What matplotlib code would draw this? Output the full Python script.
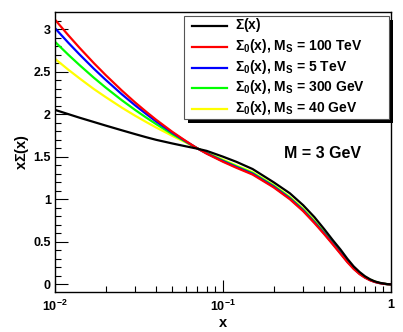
import matplotlib
matplotlib.use("Agg")
import matplotlib.pyplot as plt
from matplotlib.patches import Rectangle
from matplotlib.lines import Line2D
from matplotlib.ticker import FixedLocator, NullFormatter, FixedFormatter

plt.rcParams['font.family'] = ['Liberation Sans', 'DejaVu Sans']
plt.rcParams['font.weight'] = 'bold'
plt.rcParams['mathtext.fontset'] = 'custom'
plt.rcParams['mathtext.rm'] = 'Liberation Sans:bold'
plt.rcParams['mathtext.it'] = 'Liberation Sans:bold'
plt.rcParams['mathtext.bf'] = 'Liberation Sans:bold'
plt.rcParams['mathtext.sf'] = 'Liberation Sans:bold'

x = [0.01, 0.012, 0.014, 0.017, 0.02, 0.025, 0.03, 0.035, 0.04, 0.05, 0.06, 0.07, 0.08,
     0.1, 0.12, 0.15, 0.2, 0.25, 0.3, 0.35, 0.4, 0.45, 0.5, 0.55, 0.6, 0.65, 0.7, 0.75,
     0.8, 0.85, 0.9, 0.95, 1.0]
sigma_full = [2.05, 2.00, 1.958, 1.908, 1.866, 1.81, 1.765, 1.728, 1.698, 1.655, 1.622, 1.595, 1.568,
              1.50, 1.44, 1.355, 1.20, 1.07, 0.93, 0.79, 0.65, 0.52, 0.41, 0.30, 0.21, 0.145,
              0.095, 0.06, 0.035, 0.02, 0.01, 0.003, 0.0]
sigma0_100TeV = [3.11, 2.927, 2.779, 2.601, 2.46, 2.277, 2.137, 2.026, 1.934, 1.791, 1.685, 1.60, 1.535,
                 1.44, 1.37, 1.29, 1.14, 1.00, 0.86, 0.72, 0.59, 0.47, 0.36, 0.26, 0.18, 0.12,
                 0.078, 0.048, 0.028, 0.015, 0.007, 0.002, 0.0]
sigma0_5TeV = [3.01, 2.839, 2.701, 2.535, 2.404, 2.233, 2.103, 2.000, 1.914, 1.781, 1.681, 1.60, 1.538,
               1.447, 1.378, 1.298, 1.148, 1.008, 0.868, 0.728, 0.598, 0.477, 0.367, 0.266, 0.185,
               0.124, 0.081, 0.05, 0.029, 0.016, 0.007, 0.002, 0.0]
sigma0_300GeV = [2.85, 2.698, 2.576, 2.429, 2.313, 2.163, 2.049, 1.958, 1.883, 1.764, 1.675, 1.60, 1.543,
                 1.455, 1.387, 1.308, 1.158, 1.018, 0.878, 0.738, 0.607, 0.485, 0.374, 0.272, 0.19,
                 0.128, 0.084, 0.052, 0.031, 0.017, 0.008, 0.002, 0.0]
sigma0_40GeV = [2.65, 2.522, 2.420, 2.296, 2.201, 2.076, 1.981, 1.906, 1.843, 1.744, 1.668, 1.60, 1.55,
                1.465, 1.397, 1.318, 1.168, 1.028, 0.89, 0.75, 0.618, 0.495, 0.383, 0.28, 0.196,
                0.133, 0.088, 0.055, 0.033, 0.018, 0.008, 0.002, 0.0]

labels = [r"$Σ$(x)",
          r"$Σ_0$(x), M$_S$ = 100 TeV",
          r"$Σ_0$(x), M$_S$ = 5 TeV",
          r"$Σ_0$(x), M$_S$ = 300 GeV",
          r"$Σ_0$(x), M$_S$ = 40 GeV"]
colors = ['black', '#ff0000', '#0000ff', '#00ff00', '#ffff00']
series = [sigma_full, sigma0_100TeV, sigma0_5TeV, sigma0_300GeV, sigma0_40GeV]

W, H = 403, 332
fig = plt.figure(figsize=(W/100, H/100), dpi=100)
ax = fig.add_axes([55/W, 1-292/H, (391-55)/W, (292-12)/H])

for ys, c in list(zip(series, colors))[::-1]:
    ax.plot(x, ys, color=c, lw=1.6, solid_joinstyle='round', solid_capstyle='round')

ax.set_xscale('log')
ax.set_xlim(0.01, 1.0)
ax.set_ylim(-0.09, 3.2)

ax.xaxis.set_major_locator(FixedLocator([0.01, 0.1, 1]))
ax.xaxis.set_major_formatter(FixedFormatter([r"10$^{-2}$", r"10$^{-1}$", "1"]))
minx = [m * d for d in (0.01, 0.1) for m in range(2, 10)]
ax.xaxis.set_minor_locator(FixedLocator(minx))
ax.xaxis.set_minor_formatter(NullFormatter())

ax.yaxis.set_major_locator(FixedLocator([0, 0.5, 1, 1.5, 2, 2.5, 3]))
ax.yaxis.set_major_formatter(FixedFormatter(["0", "0.5", "1", "1.5", "2", "2.5", "3"]))
ax.yaxis.set_minor_locator(FixedLocator([i/10 for i in range(0, 32) if i % 5 != 0]))

ax.tick_params(which='both', direction='in', top=False, right=False, labelsize=9, width=0.8)
ax.tick_params(which='major', length=9)
ax.tick_params(which='minor', length=4.5)
ax.tick_params(axis='x', pad=5)
ax.tick_params(axis='y', pad=3)
for lab in ax.get_xticklabels() + ax.get_yticklabels():
    lab.set_fontweight('bold')
for s in ax.spines.values():
    s.set_linewidth(1.0)

ax.set_xlabel("x", fontsize=10.5, fontweight='bold', labelpad=1)
ax.set_ylabel(r"x$Σ$(x)", fontsize=10.5, fontweight='bold', labelpad=2)

ax.text(323/W, 1-154/H, "M = 3 GeV", transform=fig.transFigure, fontsize=11.5,
        fontweight='bold', ha='center', va='center')

# legend box (ROOT style with shadow)
lx0, ly0, lx1, ly1 = 184, 16, 389, 119
fig.patches.append(Rectangle(((lx0+4)/W, 1-(ly1+4)/H), (lx1-lx0)/W, (ly1-ly0)/H,
                             transform=fig.transFigure, facecolor='black', edgecolor='none', zorder=5))
fig.patches.append(Rectangle((lx0/W, 1-ly1/H), (lx1-lx0)/W, (ly1-ly0)/H,
                             transform=fig.transFigure, facecolor='white', edgecolor='#555555',
                             linewidth=0.8, zorder=6))
ys_leg = [26, 46.7, 67.7, 88.3, 109]
for yy, lab, c in zip(ys_leg, labels, colors):
    fig.lines.append(Line2D([192/W, 227/W], [1-yy/H, 1-yy/H], transform=fig.transFigure,
                            color=c, lw=1.6, zorder=7))
    fig.text(235/W, 1-(yy-1)/H, lab, fontsize=10, fontweight='bold', ha='left', va='center', zorder=8)

fig.savefig("out.png", dpi=100)
